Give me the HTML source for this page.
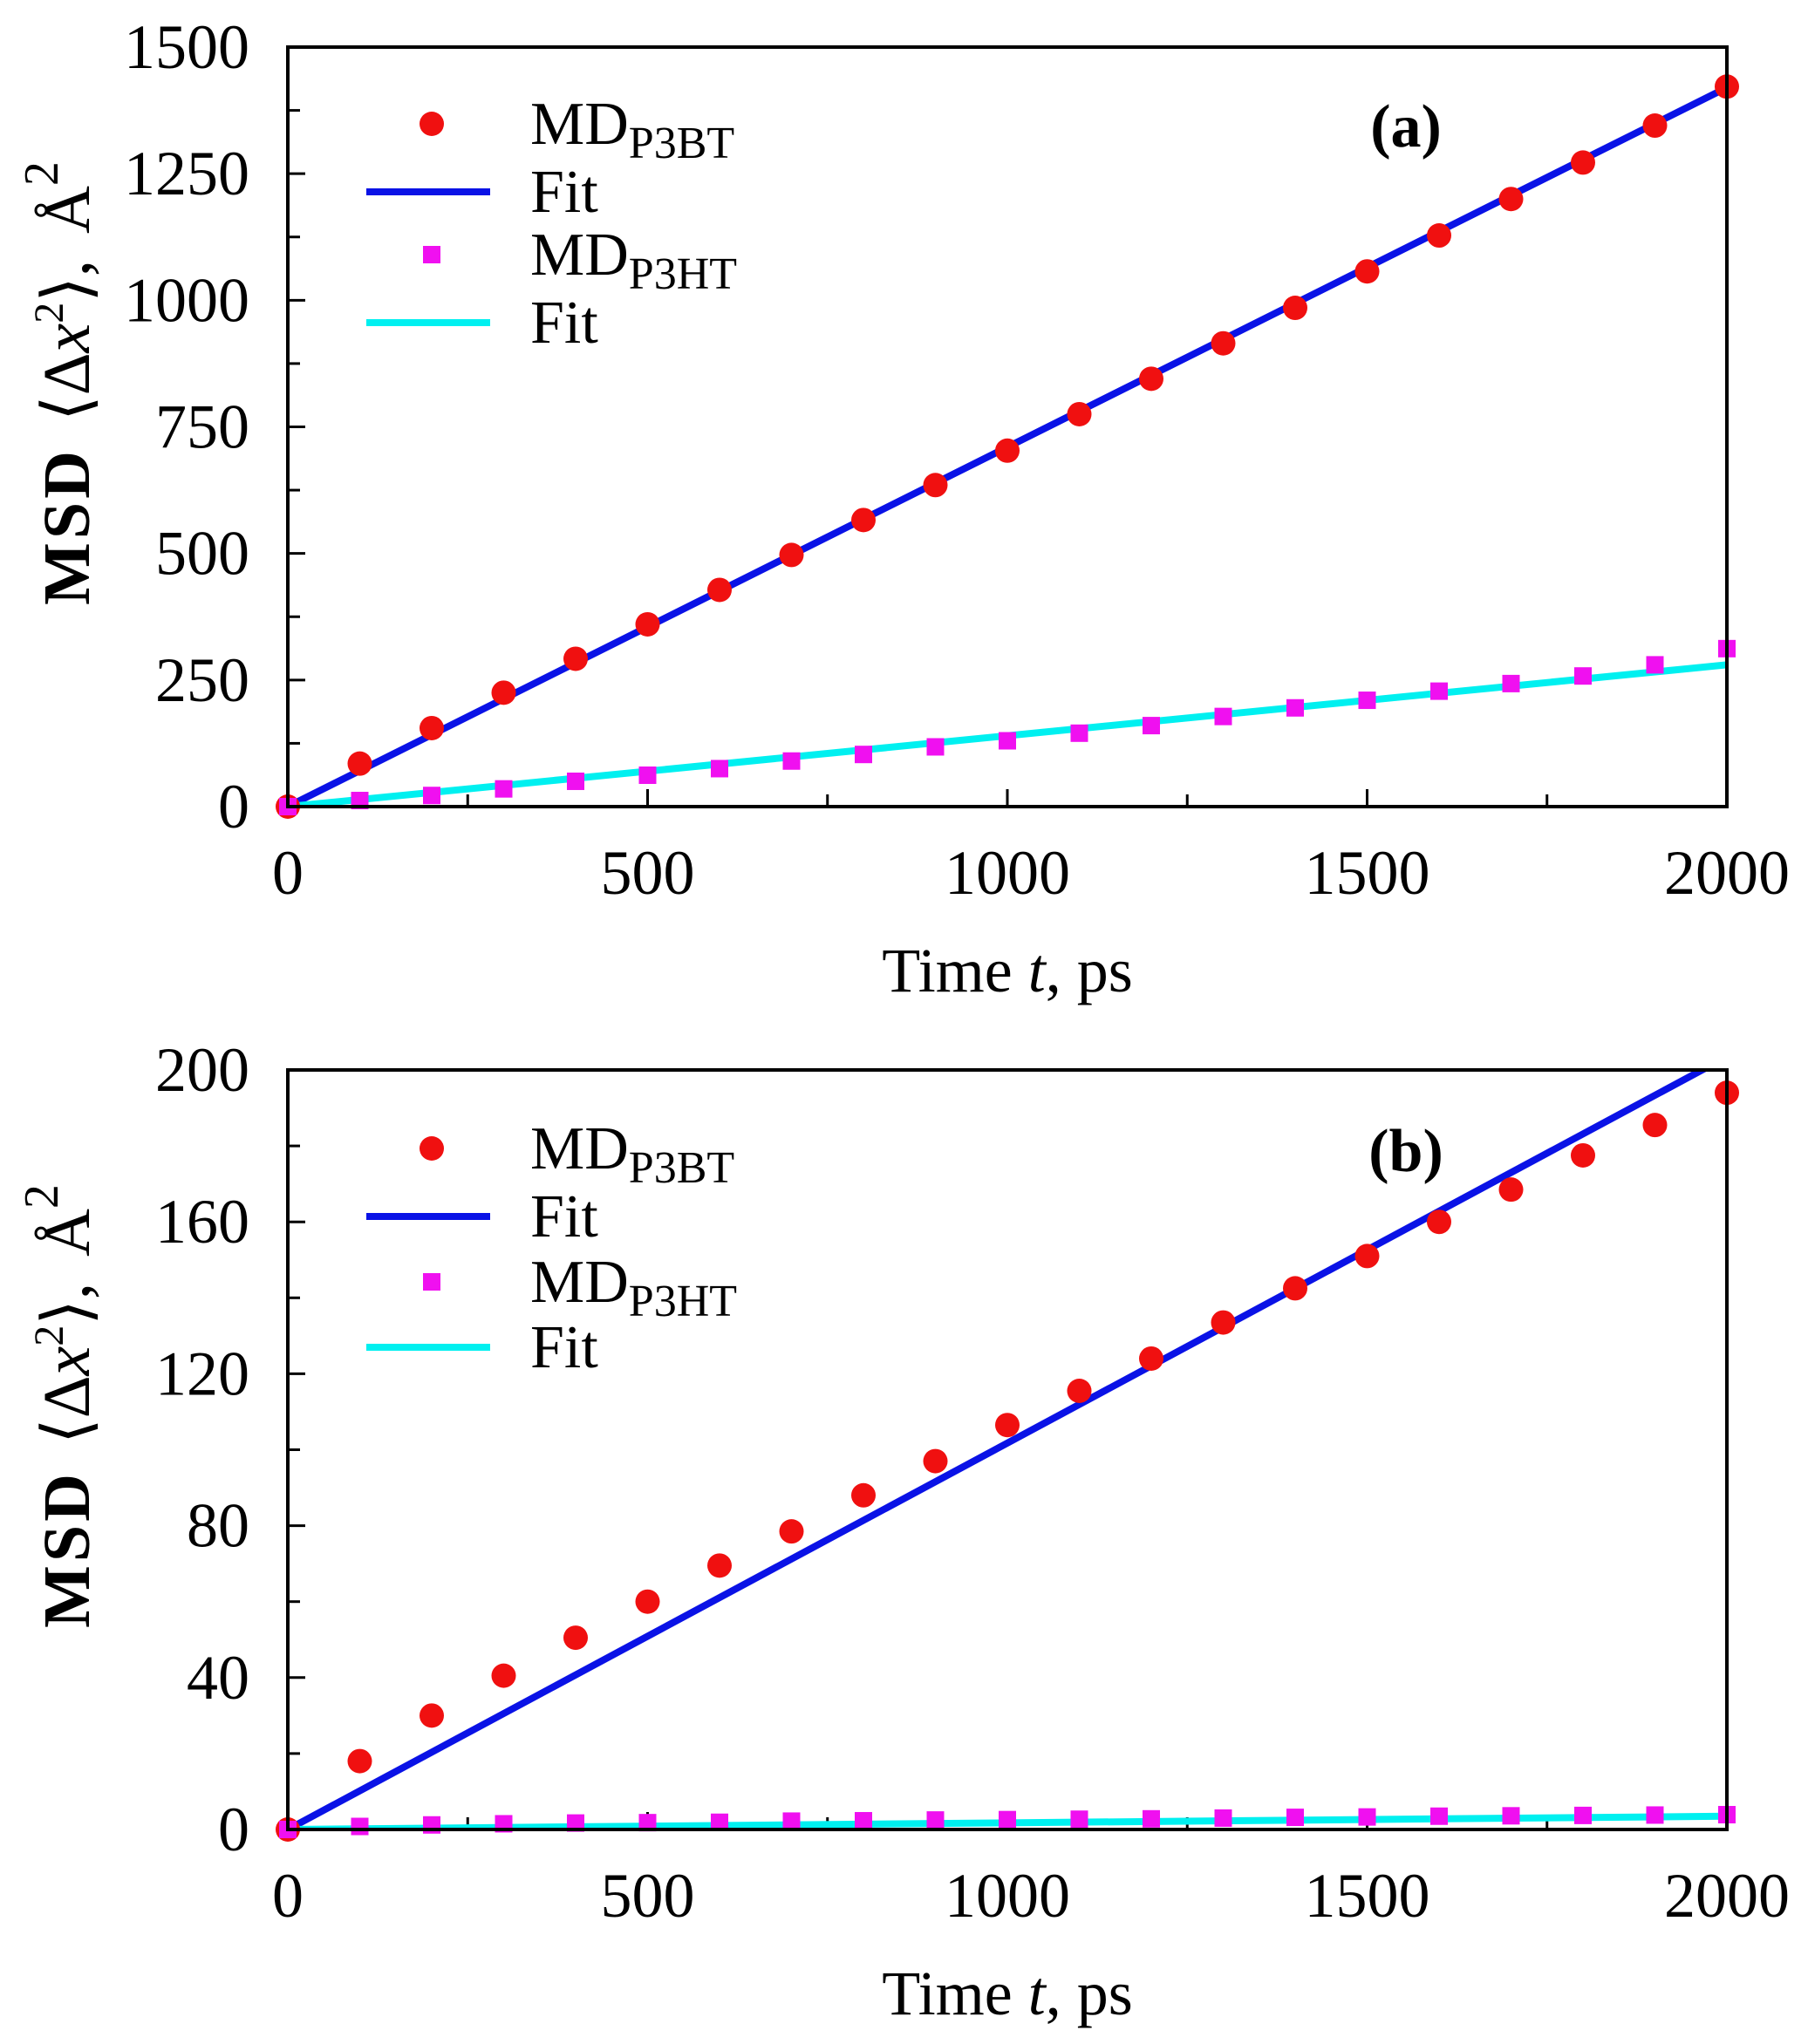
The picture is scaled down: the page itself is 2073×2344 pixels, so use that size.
<!DOCTYPE html>
<html><head><meta charset="utf-8"><style>
body{margin:0;background:#fff}
svg{display:block;font-family:"Liberation Serif","DejaVu Serif",serif}
</style></head><body>
<svg id="chart" width="2073" height="2344" viewBox="0 0 2073 2344" xmlns="http://www.w3.org/2000/svg"></svg>
<script>
const timesPs = [0,100,200,300,400,500,600,700,800,900,1000,1100,1200,1300,1400,1500,1600,1700,1800,1900,2000];
const aP3BT = [0,85,155,225,292,360,428,497,566,635,703,775,845,915,985,1057,1128,1200,1272,1345,1422];
const aP3HT = [0,12,22,35,50,62,75,90,103,118,130,145,160,178,195,210,228,243,258,280,312];
const aFitBT = [0,1420];
const aFitHT = [0,280];
const aYTicks = [0,250,500,750,1000,1250,1500];
const bP3BT = [0,18,30,40.5,50.5,60,69.5,78.5,88,97,106.5,115.5,124,133.5,142.5,151,160,168.5,177.5,185.5,194];
const bP3HT = [0,0.8,1.2,1.5,1.7,1.8,1.9,2.2,2.3,2.5,2.6,2.7,2.8,3,3.2,3.3,3.5,3.6,3.7,3.8,3.9];
const bFitBT = [0,203.5];
const bFitHT = [0,3.5];
const bYTicks = [0,40,80,120,160,200];
const xTicks = [0,500,1000,1500,2000];
const fitX = [0,2000];

const NS="http://www.w3.org/2000/svg";
const svg=document.getElementById('chart');
function mk(tag,attrs,parent){const e=document.createElementNS(NS,tag);for(const k in attrs)e.setAttribute(k,attrs[k]);(parent||svg).appendChild(e);return e;}

function panel(id,top,bot,ymax,yTicks,bt,ht,fitBT,fitHT,label,legendY){
  const L=330,R=1980;
  const g=mk('g',{});
  
  
  const X=v=>L+(v/2000)*(R-L);
  const Y=v=>bot-(v/ymax)*(bot-top);
  const clip=mk('clipPath',{id:'clip'+id},g);
  mk('rect',{x:L,y:top,width:R-L,height:bot-top},clip);
  for(let v=0;v<=2000;v+=250){
    const t=mk('line',{x1:X(v),x2:X(v),y1:bot,y2:bot-(v%500===0?20:14),stroke:'#000','stroke-width':3},g);
    
    
  }
  const step=yTicks[1]-yTicks[0];
  for(let v=0;v<=ymax+1e-9;v+=step/2){
    const major=Math.abs(v/step-Math.round(v/step))<1e-6;
    const t=mk('line',{x1:L,x2:L+(major?20:14),y1:Y(v),y2:Y(v),stroke:'#000','stroke-width':3},g);
    
    
  }
  xTicks.forEach(v=>{
    const t=mk('text',{x:X(v),y:bot+100,'font-size':72,'text-anchor':'middle'},g);t.textContent=v;
    
    
  });
  yTicks.forEach(v=>{
    const t=mk('text',{x:286,y:Y(v)+24,'font-size':72,'text-anchor':'end'},g);t.textContent=v;
    
    
  });
  const xt=mk('text',{x:1155,y:bot+212,'font-size':72,'text-anchor':'middle'},g);
  xt.innerHTML='Time <tspan font-style="italic">t</tspan>, ps';
  
  
  const cy=(top+bot)/2-50;
  const yt=mk('text',{x:0,y:0,'font-size':76,'text-anchor':'middle',transform:`translate(102,${cy}) rotate(-90)`},g);
  yt.innerHTML='<tspan font-weight="bold" letter-spacing="4">MSD</tspan><tspan dx="30">⟨Δ</tspan><tspan font-style="italic">x</tspan><tspan font-size="48" dy="-30">2</tspan><tspan dy="30">⟩,</tspan><tspan dx="30">Å</tspan><tspan font-size="56" dy="-36">2</tspan>';
  
  
  const fb=mk('line',{x1:X(fitX[0]),y1:Y(fitBT[0]),x2:X(fitX[1]),y2:Y(fitBT[1]),stroke:'#0a12e6','stroke-width':8,'clip-path':`url(#clip${id})`},g);
  
  
  const fh=mk('line',{x1:X(fitX[0]),y1:Y(fitHT[0]),x2:X(fitX[1]),y2:Y(fitHT[1]),stroke:'#00f0f0','stroke-width':8,'clip-path':`url(#clip${id})`},g);
  
  
  bt.forEach((v,i)=>{
    const c=mk('circle',{cx:X(timesPs[i]),cy:Y(v),r:14,fill:'#f01010'},g);
    
    
  });
  ht.forEach((v,i)=>{
    const s=mk('rect',{x:X(timesPs[i])-10,y:Y(v)-10,width:20,height:20,fill:'#f010f0'},g);
    
    
  });
  const fr=mk('rect',{x:L,y:top,width:R-L,height:bot-top,fill:'none',stroke:'#000','stroke-width':4},g);
  
  
  const lg=mk('g',{},g);
  
  
  const rows=legendY;
  const m1=mk('circle',{cx:495,cy:rows[0],r:14,fill:'#f01010'},lg);
  
  
  const l1=mk('line',{x1:420,x2:562,y1:rows[1],y2:rows[1],stroke:'#0a12e6','stroke-width':8},lg);
  
  
  const m2=mk('rect',{x:485,y:rows[2]-10,width:20,height:20,fill:'#f010f0'},lg);
  
  
  const l2=mk('line',{x1:420,x2:562,y1:rows[3],y2:rows[3],stroke:'#00f0f0','stroke-width':8},lg);
  
  
  const txt=['MD<tspan font-size="52" dy="16">P3BT</tspan>','Fit','MD<tspan font-size="52" dy="16">P3HT</tspan>','Fit'];
  txt.forEach((t,i)=>{
    const e=mk('text',{x:608,y:rows[i]+23,'font-size':70},lg);e.innerHTML=t;
    
    
  });
  const pl=mk('text',{x:1612,y:rows[0]+26,'font-size':70,'font-weight':'bold','text-anchor':'middle'},g);
  pl.textContent=label;
  
  
}
panel('a',54,925,1500,aYTicks,aP3BT,aP3HT,aFitBT,aFitHT,'(a)',[142,220,292,370]);
panel('b',1227,2098,200,bYTicks,bP3BT,bP3HT,bFitBT,bFitHT,'(b)',[1317,1395,1470,1545]);
</script>
</body></html>
